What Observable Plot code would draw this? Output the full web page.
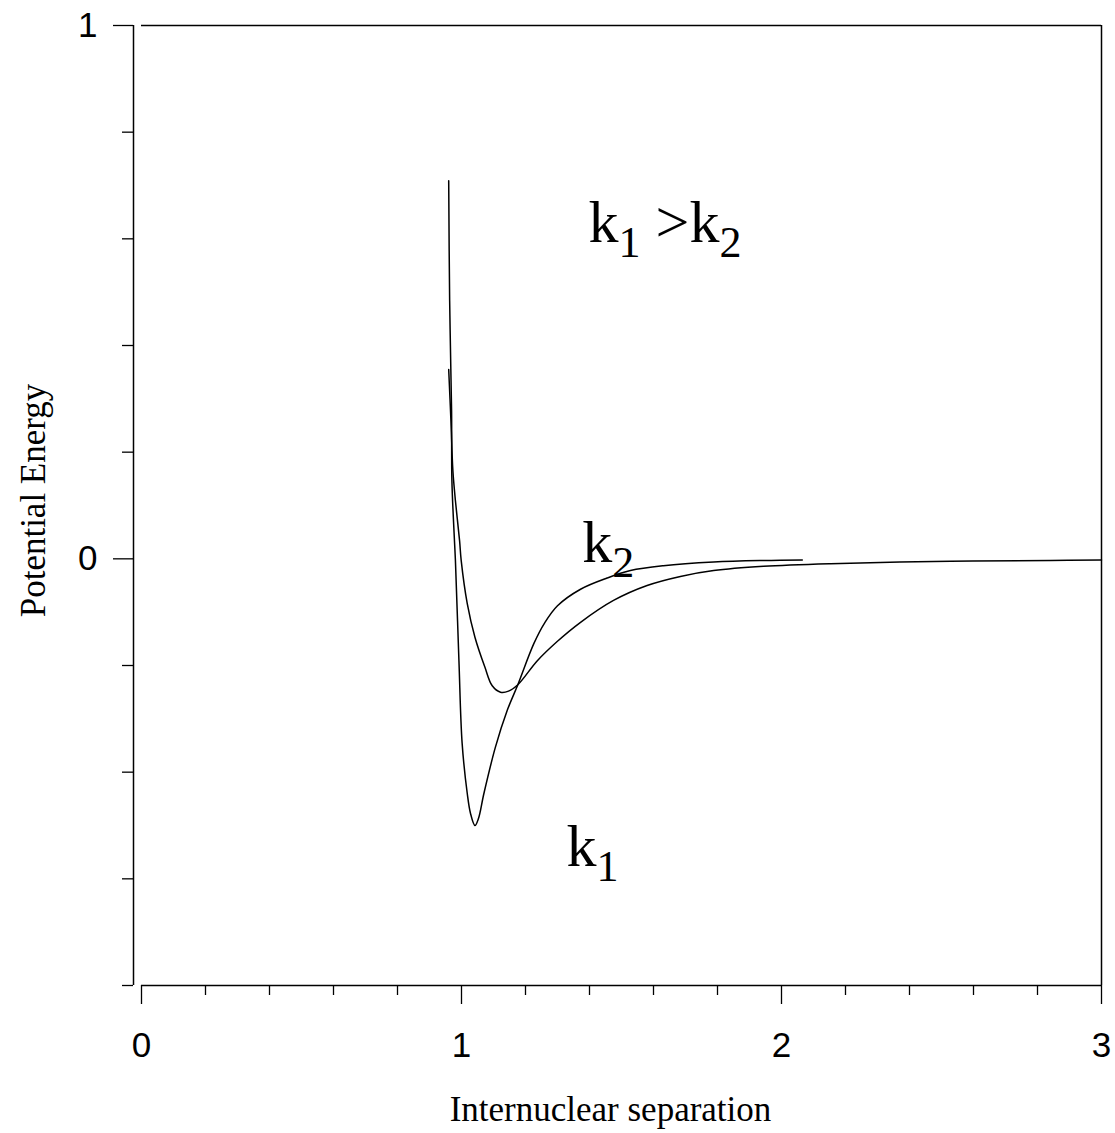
<!DOCTYPE html>
<html>
<head>
<meta charset="utf-8">
<script src="https://cdn.jsdelivr.net/npm/d3@7"></script>
<script src="https://cdn.jsdelivr.net/npm/@observablehq/plot@0.6"></script>
<style>
  body { margin: 0; background: #fff; }
  #chart svg { display: block; }
</style>
</head>
<body>
<div id="chart"></div>
<script>
// Deep, narrow well (k1)
const k1Separation = [0.960, 0.963, 0.969, 0.970, 0.978, 0.981, 0.992, 1.002, 1.018, 1.028, 1.042, 1.053, 1.070, 1.106, 1.143, 1.176, 1.226, 1.260, 1.300, 1.372, 1.455, 1.528, 1.631, 1.788, 1.944, 2.065];
const k1Energy     = [0.709, 0.484, 0.278, 0.147, 0.034, -0.003, -0.191, -0.346, -0.440, -0.477, -0.500, -0.487, -0.440, -0.353, -0.284, -0.236, -0.159, -0.120, -0.088, -0.057, -0.036, -0.022, -0.013, -0.006, -0.003, -0.002];

// Shallow, wide well (k2)
const k2Separation = [0.960, 0.967, 0.973, 0.981, 0.994, 0.999, 1.018, 1.042, 1.073, 1.096, 1.122, 1.147, 1.176, 1.237, 1.299, 1.372, 1.475, 1.580, 1.684, 1.788, 1.944, 2.153, 2.528, 2.841, 3.000];
const k2Energy     = [0.355, 0.259, 0.166, 0.109, 0.034, -0.003, -0.084, -0.147, -0.203, -0.238, -0.250, -0.248, -0.236, -0.191, -0.155, -0.119, -0.078, -0.050, -0.033, -0.022, -0.014, -0.009, -0.0045, -0.003, -0.002];

// Axis ticks
const xMajorTicks = [0, 1, 2, 3];
const xMinorTicks = [0.2, 0.4, 0.6, 0.8, 1.2, 1.4, 1.6, 1.8, 2.2, 2.4, 2.6, 2.8];
const yMajorTicks = [0, 1];
const yMinorTicks = [-0.8, -0.6, -0.4, -0.2, 0.2, 0.4, 0.6, 0.8];

// Curve labels ("_n" marks a subscript digit)
const labelText = ["k_1 >k_2", "k_2", "k_1"];
const labelSeparation = [1.397, 1.377, 1.328];
const labelEnergy = [0.595, -0.006, -0.575];

const k1 = k1Separation.map((x, i) => ({x, y: k1Energy[i]}));
const k2 = k2Separation.map((x, i) => ({x, y: k2Energy[i]}));
const labels = labelText.map((t, i) => ({x: labelSeparation[i], y: labelEnergy[i], t}));

const serif = "'Liberation Serif', 'Times New Roman', serif";
const sans = "'Liberation Sans', Arial, sans-serif";
const line = {stroke: "#000", strokeWidth: 1.5};
const intFormat = d3.format("d");

const chart = Plot.plot({
  width: 1115,
  height: 1133,
  marginLeft: 141,
  marginRight: 14,
  marginTop: 25,
  marginBottom: 148,
  x: {domain: [0, 3], label: null},
  y: {domain: [-0.8, 1], label: null},
  style: {fontFamily: sans, fontSize: "35px", color: "#000", background: "#fff"},
  marks: [
    // frame: top, bottom (x axis line), right side, detached y axis line
    Plot.ruleY([1, -0.8], line),
    Plot.ruleX([3], line),
    Plot.ruleX([0], {...line, dx: -8}),
    // y ticks
    Plot.axisY(yMinorTicks, {tickSize: 11, dx: -8, tickFormat: () => "", label: null, strokeWidth: 1.3}),
    Plot.axisY(yMajorTicks, {tickSize: 20, tickPadding: 16, dx: -8, tickFormat: intFormat, label: null, strokeWidth: 1.3, fontSize: 35}),
    // x ticks
    Plot.axisX(xMinorTicks, {tickSize: 10, tickFormat: () => "", label: null, strokeWidth: 1.3}),
    Plot.axisX(xMajorTicks, {tickSize: 19, tickPadding: 28, tickFormat: intFormat, label: null, strokeWidth: 1.3, fontSize: 35}),
    // potential curves
    Plot.line(k1, {x: "x", y: "y", curve: "catmull-rom", ...line}),
    Plot.line(k2, {x: "x", y: "y", curve: "catmull-rom", ...line}),
    // axis titles
    Plot.text(["Internuclear separation"], {
      frameAnchor: "bottom", dx: -11, dy: 135, fontFamily: serif, fontSize: 35, fill: "#000"
    }),
    Plot.text(["Potential Energy"], {
      frameAnchor: "left", textAnchor: "middle", dx: -108, dy: -5, rotate: -90,
      fontFamily: serif, fontSize: 35, fill: "#000"
    }),
    // curve labels
    Plot.text(labels, {
      x: "x", y: "y", text: "t", textAnchor: "start", lineAnchor: "bottom",
      fontFamily: serif, fontSize: 60, fill: "#000"
    })
  ]
});

// Turn "_n" into subscript tspans
d3.select(chart).selectAll("text").each(function () {
  const s = this.textContent;
  if (!s.includes("_")) return;
  const parts = s.split(/_(\d)/);
  const el = d3.select(this);
  el.text(null).style("white-space", "pre");
  let shifted = false;
  parts.forEach((p, i) => {
    const isSub = i % 2 === 1;
    if (!p) return;
    const ts = el.append("tspan").text(p);
    if (isSub && !shifted) { ts.attr("dy", 15).attr("font-size", 44); shifted = true; }
    else if (!isSub && shifted) { ts.attr("dy", -15).attr("font-size", 60); shifted = false; }
    else if (isSub) ts.attr("font-size", 44);
  });
});

document.getElementById("chart").append(chart);
</script>
</body>
</html>
